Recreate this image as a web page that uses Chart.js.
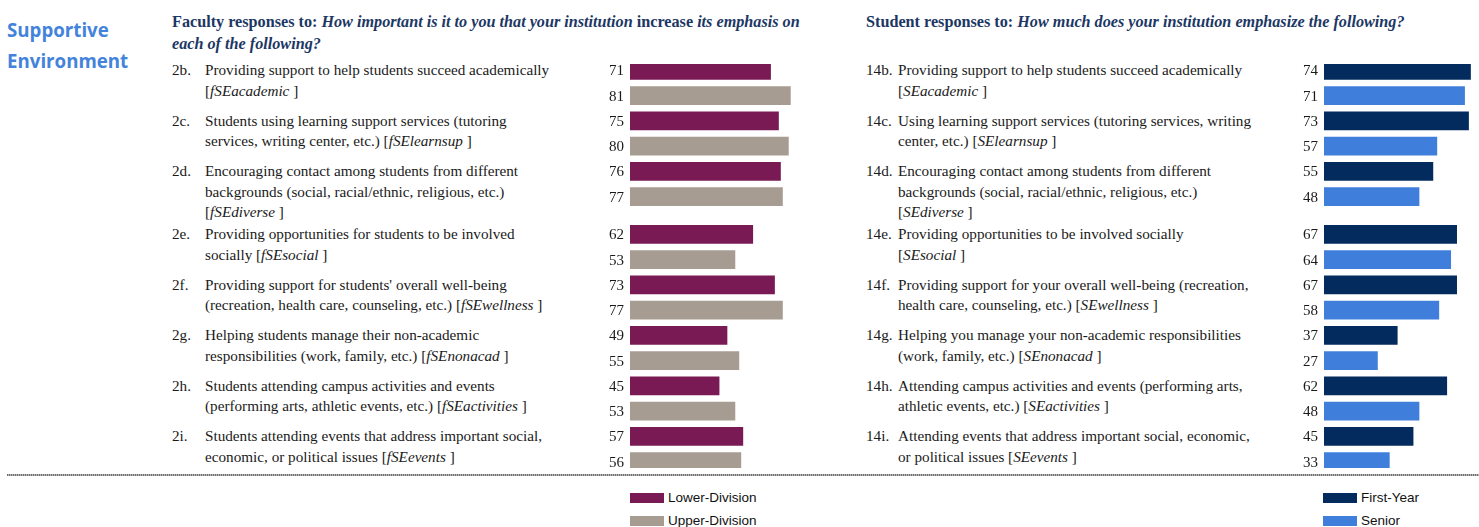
<!DOCTYPE html>
<html>
<head>
<meta charset="utf-8">
<script src="https://cdn.jsdelivr.net/npm/chart.js@4.4.1/dist/chart.umd.min.js"></script>
<style>
  body { margin: 0; width: 1479px; height: 527px; overflow: hidden; background: #fff; position: relative;
         font-family: 'Liberation Serif', 'Times New Roman', serif; color: #1a1a1a; }
  .abs { position: absolute; }
  #title { left: 7px; top: 14px; font: bold 18.7px 'Open Sans', sans-serif; color: #4383dc; line-height: 31px; }
  .head { font-weight: bold; color: #1c3764; font-size: 16.2px; line-height: 22px; white-space: nowrap; }
  .item { font-size: 15.2px; line-height: 20.5px; white-space: nowrap; }
  .rule { left: 7px; right: 0; top: 474px; height: 2px;
          background: repeating-linear-gradient(90deg, #6f6f6f 0 1px, #b5b5b5 1px 2px); }
  .legend { font: 13.5px 'Liberation Sans', Arial, sans-serif; color: #111; }
  .legend div { height: 23px; display: flex; align-items: center; }
  .legend span.sw { display: inline-block; width: 34px; height: 10px; margin-right: 4px; }
  canvas { position: absolute; }
</style>
</head>
<body>
<div id="title" class="abs">Supportive<br>Environment</div>

<div class="abs head" style="left:172px; top:11px;">
  Faculty responses to: <i>How important is it to you that your institution</i> increase <i>its emphasis on</i><br>
  <i>each of the following?</i>
</div>
<div class="abs head" style="left:866px; top:11px;">
  Student responses to: <i>How much does your institution emphasize the following?</i>
</div>

<canvas id="faculty" width="238" height="404" style="left:590px; top:64px;"></canvas>
<canvas id="student" width="238" height="404" style="left:1284px; top:64px;"></canvas>

<div class="abs rule"></div>
<div id="legendFaculty" class="abs legend" style="left:630px; top:486px;"></div>
<div id="legendStudent" class="abs legend" style="left:1323px; top:486px;"></div>

<script>
// item codes and wording (one string per printed line)
const facultyCodes = ['2b.', '2c.', '2d.', '2e.', '2f.', '2g.', '2h.', '2i.'];
const facultyItems = [
  ['Providing support to help students succeed academically', '[<i>fSEacademic</i> ]'],
  ['Students using learning support services (tutoring', 'services, writing center, etc.) [<i>fSElearnsup</i> ]'],
  ['Encouraging contact among students from different', 'backgrounds (social, racial/ethnic, religious, etc.)', '[<i>fSEdiverse</i> ]'],
  ['Providing opportunities for students to be involved', 'socially [<i>fSEsocial</i> ]'],
  ['Providing support for students\' overall well-being', '(recreation, health care, counseling, etc.) [<i>fSEwellness</i> ]'],
  ['Helping students manage their non-academic', 'responsibilities (work, family, etc.) [<i>fSEnonacad</i> ]'],
  ['Students attending campus activities and events', '(performing arts, athletic events, etc.) [<i>fSEactivities</i> ]'],
  ['Students attending events that address important social,', 'economic, or political issues [<i>fSEevents</i> ]']
];
const lowerDivision = [71, 75, 76, 62, 73, 49, 45, 57];
const upperDivision = [81, 80, 77, 53, 77, 55, 53, 56];

const studentCodes = ['14b.', '14c.', '14d.', '14e.', '14f.', '14g.', '14h.', '14i.'];
const studentItems = [
  ['Providing support to help students succeed academically', '[<i>SEacademic</i> ]'],
  ['Using learning support services (tutoring services, writing', 'center, etc.) [<i>SElearnsup</i> ]'],
  ['Encouraging contact among students from different', 'backgrounds (social, racial/ethnic, religious, etc.)', '[<i>SEdiverse</i> ]'],
  ['Providing opportunities to be involved socially', '[<i>SEsocial</i> ]'],
  ['Providing support for your overall well-being (recreation,', 'health care, counseling, etc.) [<i>SEwellness</i> ]'],
  ['Helping you manage your non-academic responsibilities', '(work, family, etc.) [<i>SEnonacad</i> ]'],
  ['Attending campus activities and events (performing arts,', 'athletic events, etc.) [<i>SEactivities</i> ]'],
  ['Attending events that address important social, economic,', 'or political issues [<i>SEevents</i> ]']
];
const firstYear = [74, 73, 55, 67, 67, 37, 62, 45];
const senior = [71, 57, 48, 64, 58, 27, 48, 33];

const LINE_H = 20.5;

// value labels to the left of each bar
const valueLabels = {
  id: 'valueLabels',
  afterDatasetsDraw(chart) {
    const ctx = chart.ctx;
    ctx.save();
    ctx.font = '15px "Liberation Serif"';
    ctx.fillStyle = '#1a1a1a';
    ctx.textAlign = 'right';
    ctx.textBaseline = 'middle';
    chart.data.datasets.forEach((ds, i) => {
      chart.getDatasetMeta(i).data.forEach((bar, j) => {
        if (ds.data[j] == null) return;
        ctx.fillText(ds.data[j], bar.base - 6, bar.y + 1);
      });
    });
    ctx.restore();
  }
};

// each item takes two half-rows per bar; a three-line item gets one extra
function buildPanel(canvasId, codes, items, names, values, colors, codeX, textX, legendId) {
  const starts = [];
  let s = 0;
  items.forEach(lines => { starts.push(s); s += lines.length === 3 ? 5 : 4; });
  const total = starts[starts.length - 1] + 3;
  const labels = Array.from({ length: total }, () => '');
  const series = values.map(() => Array(total).fill(null));
  starts.forEach((st, i) => {
    labels[st] = codes[i];
    values.forEach((v, k) => { series[k][st + 2 * k] = v[i]; });
  });

  const chart = new Chart(document.getElementById(canvasId), {
    type: 'bar',
    data: {
      labels: labels,
      datasets: names.map((n, k) => ({
        label: n,
        data: series[k],
        backgroundColor: colors[k],
        borderWidth: 0,
        barThickness: 18
      }))
    },
    options: {
      indexAxis: 'y',
      responsive: false,
      animation: false,
      layout: { padding: { left: 40 } },
      plugins: { legend: { display: false }, tooltip: { enabled: false } },
      scales: {
        x: { min: 0, max: 100, display: false, stacked: true },
        y: { display: false, stacked: true }
      }
    },
    plugins: [valueLabels]
  });

  const top = parseFloat(chart.canvas.style.top);
  starts.forEach((st, i) => {
    const y = top + chart.scales.y.getPixelForValue(st) - LINE_H / 2;
    const c = document.createElement('div');
    c.className = 'abs item';
    c.style.left = codeX + 'px';
    c.style.top = y + 'px';
    c.textContent = codes[i];
    document.body.appendChild(c);
    const t = document.createElement('div');
    t.className = 'abs item';
    t.style.left = textX + 'px';
    t.style.top = y + 'px';
    t.innerHTML = items[i].join('<br>');
    document.body.appendChild(t);
  });

  const lg = document.getElementById(legendId);
  chart.data.datasets.forEach(ds => {
    const row = document.createElement('div');
    row.innerHTML = '<span class="sw" style="background:' + ds.backgroundColor + '"></span>' + ds.label;
    lg.appendChild(row);
  });
  return chart;
}

buildPanel('faculty', facultyCodes, facultyItems, ['Lower-Division', 'Upper-Division'],
  [lowerDivision, upperDivision], ['#7a1a55', '#a79c92'], 172, 205, 'legendFaculty');
buildPanel('student', studentCodes, studentItems, ['First-Year', 'Senior'],
  [firstYear, senior], ['#032b5d', '#3f7fdb'], 866, 898, 'legendStudent');
</script>
</body>
</html>
